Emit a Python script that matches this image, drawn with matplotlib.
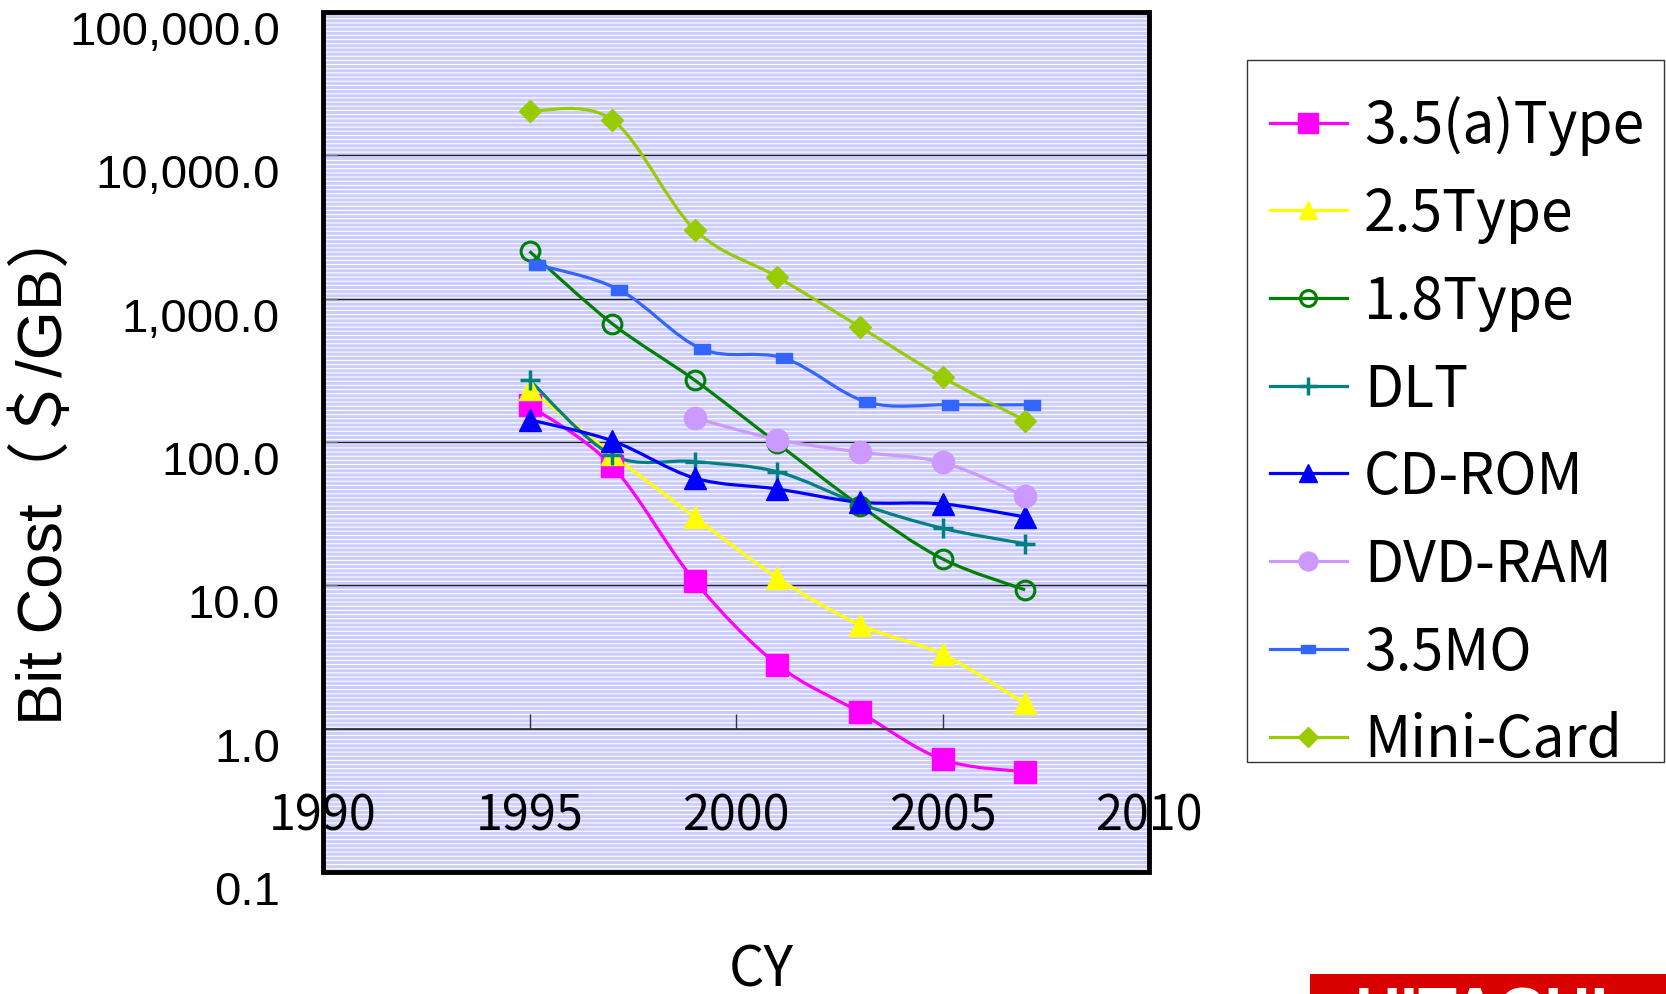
import numpy as np
import matplotlib
matplotlib.use("Agg")
import matplotlib.pyplot as plt
from matplotlib.path import Path
from matplotlib.patches import PathPatch, Rectangle
from matplotlib.lines import Line2D
from matplotlib.ticker import NullLocator
from matplotlib.transforms import ScaledTranslation

# bit cost in $/GB per calendar year
years = [1995, 1997, 1999, 2001, 2003, 2005, 2007]
years_dvd = [1999, 2001, 2003, 2005, 2007]
years_mo = [1995.17, 1997.17, 1999.17, 2001.17, 2003.17, 2005.17, 2007.17]

cost_35a = [180, 68, 10.7, 2.8, 1.3, 0.61, 0.50]
cost_25 = [235, 82, 30, 11.3, 5.3, 3.3, 1.5]
cost_18 = [2140, 670, 270, 98, 36, 15.3, 9.3]
cost_dlt = [270, 81, 73, 62, 37, 25, 19.5]
cost_cdrom = [143, 102, 56, 47, 38, 37, 30]
cost_dvdram = [147, 104, 85, 72, 42]
cost_mo = [1730, 1155, 446, 384, 190, 182, 182]
cost_minicard = [20400, 17700, 3030, 1420, 635, 283, 141]

labels = ["3.5(a)Type", "2.5Type", "1.8Type", "DLT", "CD-ROM", "DVD-RAM", "3.5MO", "Mini-Card"]
x_ticks = [1990, 1995, 2000, 2005, 2010]
x_tick_labels = ["1990", "1995", "2000", "2005", "2010"]
y_ticks = [0.1, 1, 10, 100, 1000, 10000, 100000]
y_tick_labels = ["0.1", "1.0", "10.0", "100.0", "1,000.0", "10,000.0", "100,000.0"]

W, H = 1666, 995
MO_MARK = [(-1, -0.55), (1, -0.55), (1, 0.55), (-1, 0.55), (-1, -0.55)]

# label, x, y, colour, marker, size, face, edge width
SERIES = [
    (labels[0], years, cost_35a, "#FF00FF", "s", 16.5, "#FF00FF", 1),
    (labels[1], years, cost_25, "#FFFF00", "^", 16, "#FFFF00", 1),
    (labels[2], years, cost_18, "#008000", "o", 13.5, "none", 2.2),
    (labels[3], years, cost_dlt, "#008080", "+", 15, "#008080", 2.5),
    (labels[4], years, cost_cdrom, "#0000FF", "^", 16, "#0000FF", 1),
    (labels[5], years_dvd, cost_dvdram, "#CC99FF", "o", 16, "#CC99FF", 1),
    (labels[6], years_mo, cost_mo, "#3366FF", MO_MARK, 12, "#3366FF", 1),
    (labels[7], years, cost_minicard, "#99CC00", "D", 11.5, "#99CC00", 1),
]


def smooth_path(xs, ys):
    # cubic bezier through the points, tangents from neighbours, built in log-y space
    px = np.asarray(xs, float)
    py = np.log10(np.asarray(ys, float))
    n = len(px)
    verts = [(px[0], py[0])]
    codes = [Path.MOVETO]
    for i in range(n - 1):
        i0, i3 = max(i - 1, 0), min(i + 2, n - 1)
        c1 = (px[i] + (px[i + 1] - px[i0]) / 6, py[i] + (py[i + 1] - py[i0]) / 6)
        c2 = (px[i + 1] - (px[i3] - px[i]) / 6, py[i + 1] - (py[i3] - py[i]) / 6)
        verts += [c1, c2, (px[i + 1], py[i + 1])]
        codes += [Path.CURVE4] * 3
    v = np.array(verts)
    v[:, 1] = 10 ** v[:, 1]
    return Path(v, codes)


plt.rcParams["hatch.linewidth"] = 0.8
fig = plt.figure(figsize=(W / 100, H / 100), dpi=100)
ax = fig.add_axes([323 / W, 1 - 873 / H, 826 / W, 860 / H])
ax.set_yscale("log")
ax.set_xlim(1990, 2010)
ax.set_ylim(0.1, 100000)

ax.patch.set_facecolor("#CCCCFF")
ax.patch.set_edgecolor("white")
ax.patch.set_hatch("----")
ax.patch.set_linewidth(0)

ax.set_axisbelow(True)
ax.grid(axis="y", which="major", color="#222222", lw=1.0)
ax.grid(axis="x", visible=False)

handles = []
for lab, xs, ys, col, mk, ms, mfc, mew in SERIES:
    ax.add_patch(PathPatch(smooth_path(xs, ys), facecolor="none", edgecolor=col, lw=2.3, zorder=2))
    ax.plot(xs, ys, ls="none", marker=mk, ms=ms, mfc=mfc, mec=col, mew=mew, zorder=3)
    handles.append(Line2D([], [], color=col, lw=2.3, marker=mk, ms=ms * 0.85, mfc=mfc, mec=col,
                          mew=mew, label=lab))

for s in ("top", "left", "right"):
    ax.spines[s].set_visible(False)
ax.spines["bottom"].set_position(("data", 1))
ax.spines["bottom"].set_color("#333333")
ax.spines["bottom"].set_linewidth(1.2)
ax.add_patch(Rectangle((0, 0), 1, 1, transform=ax.transAxes, fill=False, ec="black", lw=3.5,
                       clip_on=False, zorder=10))

ax.set_xticks(x_ticks)
ax.set_xticklabels(x_tick_labels, fontfamily="Noto Sans CJK JP", fontsize=35)
ax.tick_params(axis="x", direction="in", length=11, width=1, color="#333333", pad=45)
ax.set_yticks(y_ticks)
ax.set_yticklabels(y_tick_labels, fontfamily="Liberation Sans", fontsize=34)
ax.yaxis.set_minor_locator(NullLocator())
ax.tick_params(axis="y", direction="in", length=10, width=1, color="#777777", pad=31)
shift = ScaledTranslation(0, -0.15, fig.dpi_scale_trans)
for t in ax.yaxis.get_major_ticks():
    t.label1.set_transform(t.label1.get_transform() + shift)

fig.text(44 / W, 1 - 465 / H, "Bit Cost（＄/GB）", rotation=90, ha="center", va="center",
         fontsize=45.5, family=["Liberation Sans", "Noto Sans CJK JP"])
fig.text(761 / W, (H - 987) / H, "CY", ha="center", va="baseline", fontsize=40,
         family="Noto Sans CJK JP")

# legend entries without frame; the box is drawn separately
leg = fig.legend(handles=handles, loc="upper left", bbox_to_anchor=(1270 / W, 1 - 96.5 / H),
                 borderaxespad=0, borderpad=0, frameon=False, handlelength=1.35,
                 handletextpad=0.3, labelspacing=0.513,
                 prop={"family": "Noto Sans CJK JP", "size": 41})
fig.patches.append(Rectangle((1247 / W, 1 - 763 / H), 417 / W, 702 / H, transform=fig.transFigure,
                             fill=False, edgecolor="#333333", lw=1.0))

fig.patches.append(Rectangle((1310 / W, 0), 356 / W, 20 / H, transform=fig.transFigure,
                             facecolor="#D90000", edgecolor="none"))
fig.text(1482 / W, (H - 1033) / H, "HITACHI", color="white", fontweight="bold", fontsize=46,
         ha="center", va="baseline", family="Liberation Sans")

fig.savefig("out.png", dpi=100)
